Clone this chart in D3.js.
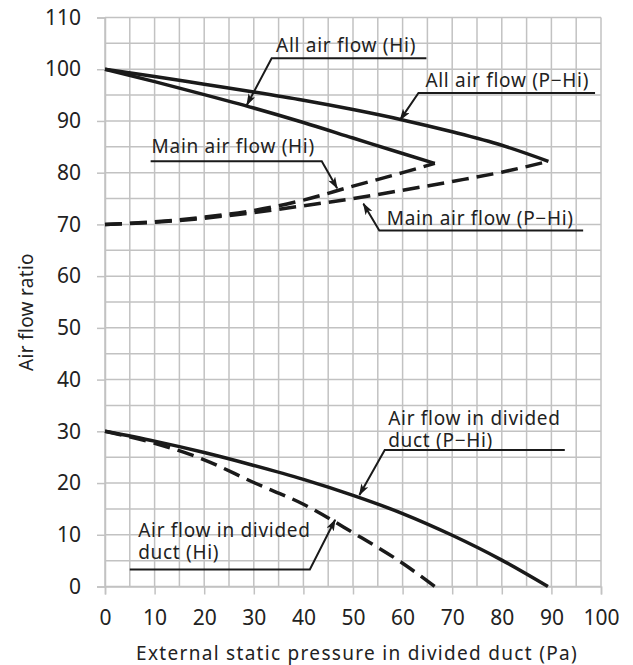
<!DOCTYPE html>
<html>
<head>
<meta charset="utf-8">
<script src="https://cdn.jsdelivr.net/npm/d3@7"></script>
<style>
  body { margin: 0; background: #fff; }
  text { font-family: "Noto Sans", sans-serif; fill: #222; }
</style>
</head>
<body>
<div id="chart"></div>
<script>
// Data (x = external static pressure, Pa ; y = air flow ratio)
var allHiX   = [0, 10, 20, 30, 40, 50, 60, 66.5];
var allHiY   = [100, 97.6, 95.1, 92.5, 89.7, 86.7, 83.7, 81.8];
var allPHiX  = [0, 10, 20, 30, 40, 50, 60, 70, 80, 89.4];
var allPHiY  = [100, 98.6, 97.1, 95.6, 94.0, 92.2, 90.2, 87.9, 85.3, 82.2];
var mainHiX  = [0, 10, 20, 30, 40, 50, 60, 66.5];
var mainHiY  = [70, 70.5, 71.4, 72.7, 74.7, 77.4, 80.0, 81.8];
var mainPHiX = [0, 10, 20, 30, 40, 50, 60, 70, 80, 89.4];
var mainPHiY = [70, 70.4, 71.2, 72.3, 73.6, 75.0, 76.6, 78.3, 80.1, 82.2];
var divPHiX  = [0, 10, 20, 30, 40, 50, 60, 70, 80, 89.3];
var divPHiY  = [30, 28.1, 25.9, 23.4, 20.7, 17.6, 14.1, 9.9, 5.1, 0];
var divHiX   = [0, 10, 20, 30, 40, 50, 60, 66.5];
var divHiY   = [30, 27.7, 24.5, 20.1, 15.9, 10.4, 4.5, 0];

var xTicks = [0, 10, 20, 30, 40, 50, 60, 70, 80, 90, 100];
var yTicks = [0, 10, 20, 30, 40, 50, 60, 70, 80, 90, 100, 110];
var xTitle = "External static pressure in divided duct (Pa)";
var yTitle = "Air flow ratio";

// labels: text lines, anchor point of text (data), underline and the point the arrow hits
var labels = [
  { lines: ["All air flow (Hi)"],       tx: 34.5, ty: 103.3, ux: [33.6, 64.8], uy: 102.1, to: [28.6, 93.1] },
  { lines: ["All air flow (P−Hi)"],     tx: 64.6, ty: 96.5,  ux: [63.2, 98.8], uy: 95.4,  to: [59.5, 90.2] },
  { lines: ["Main air flow (Hi)"],      tx: 9.4,  ty: 83.8,  ux: [9.2, 43.7],  uy: 82.2,  to: [46.8, 77.0] },
  { lines: ["Main air flow (P−Hi)"],    tx: 56.8, ty: 69.8,  ux: [55.3, 96.4], uy: 68.8,  to: [52.1, 74.0] },
  { lines: ["Air flow in divided", "duct (P−Hi)"], tx: 57.1, ty: 31.3, ux: [56.4, 92.7], uy: 26.4, to: [51.3, 17.7] },
  { lines: ["Air flow in divided", "duct (Hi)"],   tx: 6.7,  ty: 9.6,  ux: [5.0, 41.3],  uy: 3.3,  to: [46.4, 12.9] }
];

var W = 633, H = 665;
var margin = { top: 17.5, left: 105, right: 32, bottom: 78.5 };
var width = W - margin.left - margin.right,
    height = H - margin.top - margin.bottom;

var svg = d3.select("#chart").append("svg")
  .attr("width", W).attr("height", H);

var defs = svg.append("defs");
defs.append("marker")
  .attr("id", "arrow")
  .attr("viewBox", "0 0 12 8")
  .attr("refX", 11).attr("refY", 4)
  .attr("markerWidth", 12).attr("markerHeight", 8)
  .attr("markerUnits", "userSpaceOnUse")
  .attr("orient", "auto")
  .append("path")
  .attr("d", "M0,0 L12,4 L0,8 L3,4 Z")
  .attr("fill", "#1a1a1a");

var g = svg.append("g").attr("transform", "translate(" + margin.left + "," + margin.top + ")");

var x = d3.scaleLinear().domain([0, 100]).range([0, width]);
var y = d3.scaleLinear().domain([0, 110]).range([height, 0]);

// grid every 5
var gridColor = "#c2c2c2";
g.append("g").selectAll("line").data(d3.range(0, 100.1, 5)).enter().append("line")
  .attr("x1", function(d) { return x(d); }).attr("x2", function(d) { return x(d); })
  .attr("y1", 0).attr("y2", height)
  .attr("stroke", gridColor).attr("stroke-width", 1.5);
g.append("g").selectAll("line").data(d3.range(0, 110.1, 5)).enter().append("line")
  .attr("y1", function(d) { return y(d); }).attr("y2", function(d) { return y(d); })
  .attr("x1", 0).attr("x2", width)
  .attr("stroke", gridColor).attr("stroke-width", 1.5);

// axes
var xAxis = d3.axisBottom(x).tickValues(xTicks).tickSize(8).tickPadding(16);
var yAxis = d3.axisLeft(y).tickValues(yTicks).tickSize(8).tickPadding(16);

var gx = g.append("g").attr("transform", "translate(0," + height + ")").call(xAxis);
var gy = g.append("g").call(yAxis);
[gx, gy].forEach(function(a) {
  a.select(".domain").attr("stroke", gridColor).attr("stroke-width", 1.5);
  a.selectAll(".tick line").attr("stroke", gridColor).attr("stroke-width", 1.5);
  a.selectAll(".tick text").style("font-size", "21px").attr("fill", "#222")
    .style("font-family", "'Noto Sans', sans-serif");
});

// axis titles
svg.append("text")
  .attr("x", 357).attr("y", 660)
  .attr("text-anchor", "middle")
  .style("font-size", "19px")
  .style("letter-spacing", "1.3px")
  .text(xTitle);
svg.append("text")
  .attr("transform", "translate(33,312) rotate(-90)")
  .attr("text-anchor", "middle")
  .style("font-size", "19px")
  .style("letter-spacing", "0.3px")
  .text(yTitle);

// curves
var line = d3.line()
  .x(function(d) { return x(d[0]); })
  .y(function(d) { return y(d[1]); })
  .curve(d3.curveMonotoneX);

function pts(xs, ys) { return xs.map(function(v, i) { return [v, ys[i]]; }); }

var series = [
  { d: pts(allHiX, allHiY),     dash: null },
  { d: pts(allPHiX, allPHiY),   dash: null },
  { d: pts(mainHiX, mainHiY),   dash: "17,8" },
  { d: pts(mainPHiX, mainPHiY), dash: "17,8" },
  { d: pts(divPHiX, divPHiY),   dash: null },
  { d: pts(divHiX, divHiY),     dash: "17,8" }
];

g.selectAll(".curve").data(series).enter().append("path")
  .attr("class", "curve")
  .attr("d", function(s) { return line(s.d); })
  .attr("fill", "none")
  .attr("stroke", "#1a1a1a")
  .attr("stroke-width", 3.5)
  .attr("stroke-dasharray", function(s) { return s.dash; });

// labels with underline leader and arrow
var lab = g.selectAll(".lab").data(labels).enter().append("g").attr("class", "lab");

lab.append("path")
  .attr("d", function(d) {
    var leftEnd = d.to[0] > d.ux[1] ? d.ux[1] : d.ux[0];
    var other = leftEnd === d.ux[0] ? d.ux[1] : d.ux[0];
    return "M" + x(other) + "," + y(d.uy) + "L" + x(leftEnd) + "," + y(d.uy) +
           "L" + x(d.to[0]) + "," + y(d.to[1]);
  })
  .attr("fill", "none")
  .attr("stroke", "#1a1a1a")
  .attr("stroke-width", 2)
  .attr("marker-end", "url(#arrow)");

// one text element per label, extra lines as tspans
lab.append("text")
  .attr("x", function(d) { return x(d.tx); })
  .attr("y", function(d) { return y(d.ty); })
  .style("font-size", "19px")
  .style("letter-spacing", "0.7px")
  .each(function(d) {
    var t = d3.select(this);
    d.lines.forEach(function(s, i) {
      t.append("tspan")
        .attr("x", x(d.tx))
        .attr("dy", i === 0 ? 0 : 22.5)
        .text(s);
    });
  });
</script>
</body>
</html>
